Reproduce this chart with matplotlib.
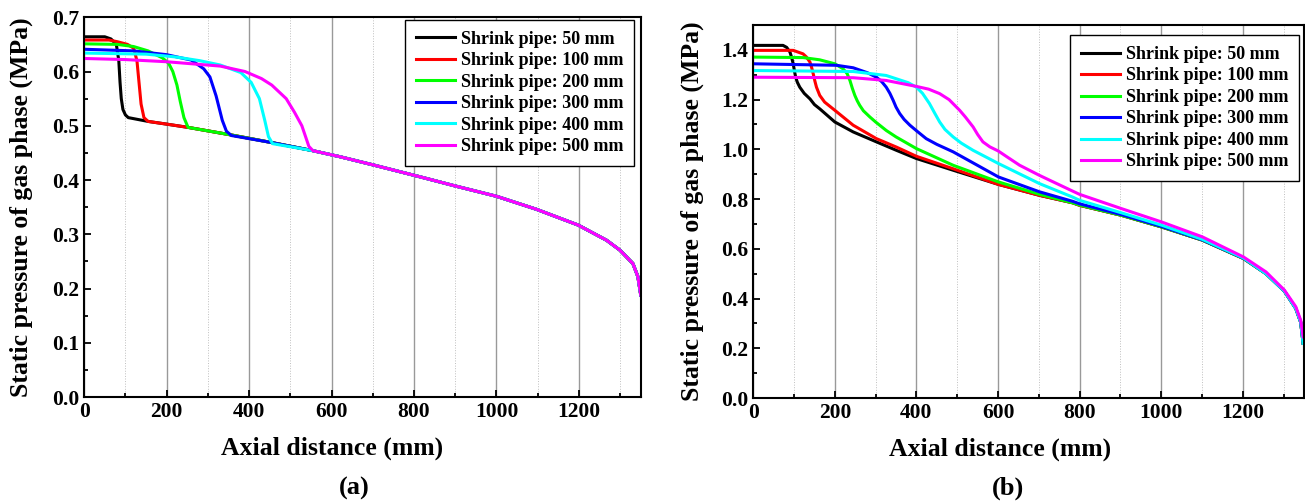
import matplotlib
matplotlib.use("Agg")
import matplotlib.pyplot as plt
from matplotlib.ticker import MultipleLocator

plt.rcParams['font.family'] = ['Liberation Serif', 'DejaVu Serif']
plt.rcParams['font.weight'] = 'bold'
plt.rcParams['axes.labelweight'] = 'bold'

labels = ["Shrink pipe: 50 mm", "Shrink pipe: 100 mm", "Shrink pipe: 200 mm",
          "Shrink pipe: 300 mm", "Shrink pipe: 400 mm", "Shrink pipe: 500 mm"]
colors = ["#000000", "#ff0000", "#00ff00", "#0000ff", "#00ffff", "#ff00ff"]

# ---- panel (a): values ----
# shared downstream part (all curves collapse on it)
a_tail_x = [555, 620, 700, 814, 900, 1000, 1097, 1198, 1267, 1299, 1331, 1343, 1350]
a_tail_y = [0.454, 0.443, 0.428, 0.406, 0.389, 0.370, 0.346, 0.317, 0.289, 0.271, 0.246, 0.222, 0.188]

a_x = [
    [0, 50, 65, 78, 84, 87, 90, 94, 100, 107, 155, 200, 252, 357, 455],
    [0, 60, 80, 105, 120, 128, 133, 138, 145, 155, 200, 252, 357, 455],
    [0, 80, 120, 155, 190, 205, 215, 225, 233, 242, 252, 357, 455],
    [0, 120, 200, 260, 290, 305, 320, 335, 345, 357, 455],
    [0, 150, 220, 280, 330, 380, 405, 425, 438, 447, 457],
    [0, 100, 200, 330, 390, 430, 455, 490, 510, 528, 545],
]
a_y = [
    [0.664, 0.664, 0.660, 0.650, 0.620, 0.580, 0.550, 0.530, 0.520, 0.515, 0.508, 0.503, 0.497, 0.483, 0.469],
    [0.658, 0.658, 0.655, 0.650, 0.643, 0.620, 0.580, 0.540, 0.515, 0.508, 0.503, 0.497, 0.483, 0.469],
    [0.651, 0.650, 0.646, 0.638, 0.625, 0.615, 0.600, 0.575, 0.545, 0.515, 0.497, 0.483, 0.469],
    [0.641, 0.638, 0.631, 0.621, 0.605, 0.590, 0.555, 0.510, 0.490, 0.482, 0.469],
    [0.634, 0.632, 0.627, 0.620, 0.612, 0.598, 0.580, 0.550, 0.510, 0.480, 0.467],
    [0.624, 0.622, 0.618, 0.610, 0.600, 0.587, 0.575, 0.550, 0.525, 0.500, 0.462],
]

# ---- panel (b) ----
b_x = [
    [0, 73, 82, 90, 94, 98, 101, 104, 108, 114, 125, 139, 150, 163, 200, 245, 302, 351, 400, 490, 601, 702, 783, 800, 902, 1001, 1101, 1202],
    [0, 98, 122, 130, 139, 143, 147, 151, 155, 163, 175, 200, 245, 302, 351, 400, 490, 601, 702, 783, 800, 902, 1001, 1101, 1202],
    [0, 122, 163, 200, 220, 230, 237, 243, 249, 255, 261, 270, 286, 300, 326, 350, 400, 490, 601, 702, 783, 800, 902, 1001, 1101, 1202],
    [0, 204, 245, 280, 302, 315, 326, 335, 343, 350, 359, 370, 384, 400, 424, 450, 490, 601, 702, 783, 800, 902, 1001, 1101, 1202],
    [0, 245, 326, 380, 400, 415, 432, 445, 457, 470, 490, 510, 539, 601, 702, 783, 800, 902, 1001, 1101, 1202],
    [0, 245, 326, 400, 430, 457, 480, 506, 520, 539, 550, 563, 580, 601, 620, 653, 702, 783, 800, 902, 1001, 1101, 1202],
]
b_y = [
    [1.418, 1.418, 1.410, 1.391, 1.370, 1.344, 1.315, 1.290, 1.270, 1.250, 1.225, 1.203, 1.180, 1.163, 1.110, 1.070, 1.030, 0.996, 0.963, 0.916, 0.859, 0.815, 0.785, 0.775, 0.735, 0.688, 0.635, 0.561],
    [1.398, 1.398, 1.384, 1.372, 1.351, 1.330, 1.304, 1.275, 1.250, 1.217, 1.190, 1.157, 1.097, 1.043, 1.009, 0.972, 0.922, 0.859, 0.815, 0.785, 0.775, 0.735, 0.688, 0.635, 0.561],
    [1.371, 1.369, 1.360, 1.344, 1.324, 1.305, 1.277, 1.245, 1.217, 1.195, 1.177, 1.155, 1.130, 1.110, 1.076, 1.050, 1.003, 0.936, 0.869, 0.819, 0.785, 0.776, 0.735, 0.688, 0.635, 0.561],
    [1.344, 1.338, 1.328, 1.308, 1.290, 1.272, 1.250, 1.225, 1.197, 1.170, 1.144, 1.120, 1.097, 1.075, 1.043, 1.020, 0.990, 0.889, 0.829, 0.791, 0.781, 0.738, 0.690, 0.636, 0.562],
    [1.317, 1.313, 1.297, 1.268, 1.250, 1.225, 1.184, 1.145, 1.110, 1.080, 1.050, 1.025, 0.996, 0.943, 0.862, 0.808, 0.795, 0.745, 0.695, 0.638, 0.563],
    [1.290, 1.288, 1.277, 1.253, 1.242, 1.224, 1.200, 1.157, 1.130, 1.090, 1.060, 1.030, 1.010, 0.993, 0.972, 0.936, 0.895, 0.832, 0.819, 0.762, 0.708, 0.648, 0.567],
]
# end section near the outlet
b_tail_x = [1257, 1302, 1330, 1342, 1348]
b_tail_y = [0.500, 0.430, 0.360, 0.305, 0.220]
b_tail_pink_y = [0.507, 0.434, 0.367, 0.313, 0.246]


def style_axes(ax, ymax, ymajor, legend_anchor, xlab_pos, ylab_x):
    ax.set_xlim(0, 1350)
    ax.set_ylim(0, ymax)
    ax.xaxis.set_major_locator(MultipleLocator(200))
    ax.xaxis.set_minor_locator(MultipleLocator(100))
    ax.yaxis.set_major_locator(MultipleLocator(ymajor))
    ax.yaxis.set_minor_locator(MultipleLocator(ymajor / 2))
    ax.grid(True, axis='x', which='major', color='0.6', lw=1.0)
    ax.grid(True, axis='x', which='minor', color='0.75', lw=0.7, ls=':')
    ax.set_axisbelow(True)
    ax.tick_params(which='both', direction='in', labelsize=15.5, width=1.3)
    ax.tick_params(which='major', length=5)
    ax.tick_params(which='minor', length=3)
    for lab in ax.get_xticklabels() + ax.get_yticklabels():
        lab.set_fontweight('bold')
    for s in ax.spines.values():
        s.set_linewidth(1.5)
    ax.set_xlabel("Axial distance (mm)", fontsize=18.5, fontweight='bold')
    ax.set_ylabel("Static pressure of gas phase (MPa)", fontsize=18.5, fontweight='bold')
    ax.xaxis.set_label_coords(xlab_pos[0], xlab_pos[1])
    ax.yaxis.set_label_coords(ylab_x, 0.5)
    leg = ax.legend(loc='upper right', bbox_to_anchor=legend_anchor, borderaxespad=0,
                    prop={'size': 13, 'weight': 'bold'}, fancybox=False,
                    edgecolor='black', framealpha=1, handlelength=2.2,
                    labelspacing=0.25, handletextpad=0.3, borderpad=0.6)
    leg.get_frame().set_linewidth(1.0)


fig = plt.figure(figsize=(13.05, 5.03), dpi=100)
ax1 = fig.add_axes([0.0645, 0.2107, 0.4265, 0.755])
ax2 = fig.add_axes([0.5772, 0.2087, 0.4220, 0.7416])

for i in range(6):
    xs = a_x[i] + [x for x in a_tail_x if x > a_x[i][-1]]
    ys = a_y[i] + [y for x, y in zip(a_tail_x, a_tail_y) if x > a_x[i][-1]]
    ax1.plot(xs, ys, color=colors[i], lw=2.2, label=labels[i])

for i in range(6):
    ty = b_tail_pink_y if i == 5 else b_tail_y
    ax2.plot(b_x[i] + b_tail_x, b_y[i] + ty, color=colors[i], lw=2.2, label=labels[i])

style_axes(ax1, 0.7, 0.1, (0.988, 0.993), (0.445, -0.105), -0.092)
style_axes(ax2, 1.5, 0.2, (0.991, 0.973), (0.448, -0.105), -0.0895)

fig.text(0.2713, 0.0298, "(a)", ha='center', va='center', fontsize=19, fontweight='bold')
fig.text(0.7724, 0.0298, "(b)", ha='center', va='center', fontsize=19, fontweight='bold')

fig.savefig("out.png", dpi=100)
